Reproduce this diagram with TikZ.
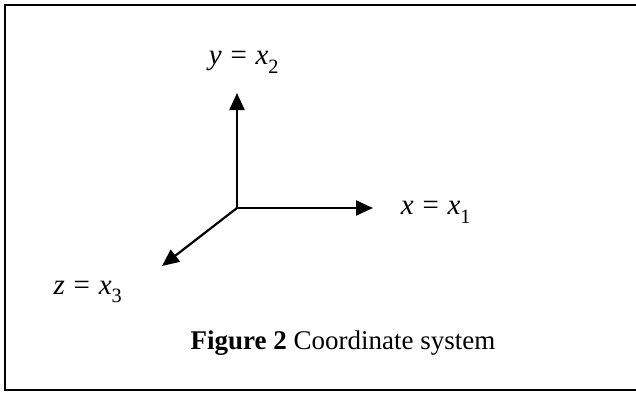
\documentclass[tikz,border=0pt]{standalone}
\usepackage{fontspec}
\setmainfont{Liberation Serif}
\usetikzlibrary{arrows.meta}
\newcommand\lbl[3]{\textit{#1}\hspace{0.3em}=\hspace{0.3em}\textit{#2}\raisebox{-0.3ex}{\textsubscript{#3}}}
\tikzset{
  axis/.style={line width=2.2pt, -{Triangle[length=17pt,width=15pt]}},
  frameline/.style={line width=2.6pt},
  lab/.style={font=\fontsize{29}{32}\selectfont, inner sep=0pt},
  captext/.style={font=\fontsize{27}{30}\selectfont, inner sep=0pt}
}
\begin{document}
\begin{tikzpicture}[x=1pt,y=-1pt]
\useasboundingbox (0,0) rectangle (636,394);
\fill[white] (0,0) rectangle (636,394);
\draw[frameline] (636,5) -- (5,5) -- (5,390) -- (636,390);
\coordinate (o) at (237,208);
\coordinate (ytip) at (237,93);
\coordinate (xtip) at (373,208);
\coordinate (ztip) at (162,266);
\draw[axis] (o) -- (ytip);
\draw[axis] (o) -- (xtip);
\draw[axis] (o) -- (ztip);
\node[lab] (ylab) at (244,62) {\lbl{y}{x}{2}};
\node[lab] (xlab) at (436,212) {\lbl{x}{x}{1}};
\node[lab] (zlab) at (88,292) {\lbl{z}{x}{3}};
\node[captext] (caption) at (343,343) {\textbf{Figure 2} Coordinate system};
\end{tikzpicture}
\end{document}
